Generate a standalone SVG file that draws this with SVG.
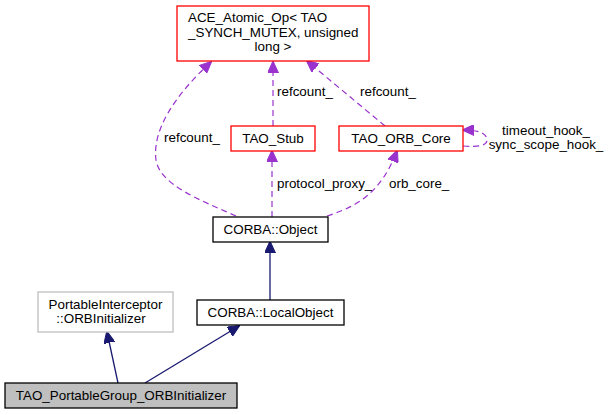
<svg xmlns="http://www.w3.org/2000/svg" width="609" height="415" viewBox="0 0 609 415">
<style>
text{font-family:"Liberation Sans",Arial,sans-serif;font-size:13.4px;fill:#000}
.n rect{fill:#fff;stroke-width:1.3}
.red rect{stroke:#ff0000}
.blk rect{stroke:#000}
.gry rect{stroke:#bfbfbf}
.main rect{fill:#bfbfbf;stroke:#000}
.c{text-anchor:middle}
.d{fill:none;stroke:#9a32cd;stroke-width:1.2;stroke-dasharray:6,4}
.s{fill:none;stroke:#191970;stroke-width:1.3}
</style>
<defs>
<marker id="ap" viewBox="0 0 12 11" refX="11" refY="5.5" markerWidth="12" markerHeight="11" markerUnits="userSpaceOnUse" orient="auto">
<path d="M0,0 L12,5.5 L0,11 Z" fill="#9a32cd" stroke="#9a32cd"/>
</marker>
<marker id="an" viewBox="0 0 12 11" refX="11" refY="5.5" markerWidth="12" markerHeight="11" markerUnits="userSpaceOnUse" orient="auto">
<path d="M0,0 L12,5.5 L0,11 Z" fill="#191970" stroke="#191970"/>
</marker>
</defs>
<g id="connectors">
<path class="d" d="M236,216 C200,200 160,185 156,160 C152,130 175,95 211,62" marker-end="url(#ap)"/>
<text x="164" y="142">refcount_</text>
<path class="d" d="M273,126 L273,62" marker-end="url(#ap)"/>
<text x="277" y="96">refcount_</text>
<path class="d" d="M385,126 L307,61" marker-end="url(#ap)"/>
<text x="360" y="96">refcount_</text>
<path class="d" d="M272,217 L272,151" marker-end="url(#ap)"/>
<text x="277" y="188">protocol_proxy_</text>
<path class="d" d="M327,216 C355,207 380,195 397,151" marker-end="url(#ap)"/>
<text x="389" y="188">orb_core_</text>
<path class="d" d="M463,146 C478,147 487,146 487,140 C487,133 478,130 463,130" marker-end="url(#ap)"/>
<text x="546" y="135" class="c">timeout_hook_</text>
<text x="546" y="149" class="c">sync_scope_hook_</text>
<path class="s" d="M270,300 L270,242" marker-end="url(#an)"/>
<path class="s" d="M118,383 L107,332" marker-end="url(#an)"/>
<path class="s" d="M145,383 L239,326" marker-end="url(#an)"/>
</g>
<g id="ace" class="n red">
<rect x="177" y="6" width="192" height="55"/>
<text x="188" y="22">ACE_Atomic_Op&lt; TAO</text>
<text x="188" y="37">_SYNCH_MUTEX, unsigned</text>
<text x="273" y="51" class="c">long &gt;</text>
</g>
<g id="tao_stub" class="n red">
<rect x="231" y="126" width="84" height="25"/>
<text x="273" y="143" class="c">TAO_Stub</text>
</g>
<g id="tao_orb_core" class="n red">
<rect x="339" y="126" width="124" height="25"/>
<text x="401" y="143" class="c">TAO_ORB_Core</text>
</g>
<g id="corba_object" class="n blk">
<rect x="213" y="217" width="115" height="25"/>
<text x="270.5" y="234" class="c">CORBA::Object</text>
</g>
<g id="corba_localobject" class="n blk">
<rect x="197" y="300" width="147" height="25"/>
<text x="270.5" y="317" class="c">CORBA::LocalObject</text>
</g>
<g id="pi_orbinitializer" class="n gry">
<rect x="38" y="292" width="135" height="40"/>
<text x="105.5" y="309" class="c">PortableInterceptor</text>
<text x="101" y="323" class="c">::ORBInitializer</text>
</g>
<g id="tao_portablegroup_orbinitializer" class="n main">
<rect x="5" y="383" width="232" height="25"/>
<text x="121" y="400" class="c">TAO_PortableGroup_ORBInitializer</text>
</g>
</svg>
